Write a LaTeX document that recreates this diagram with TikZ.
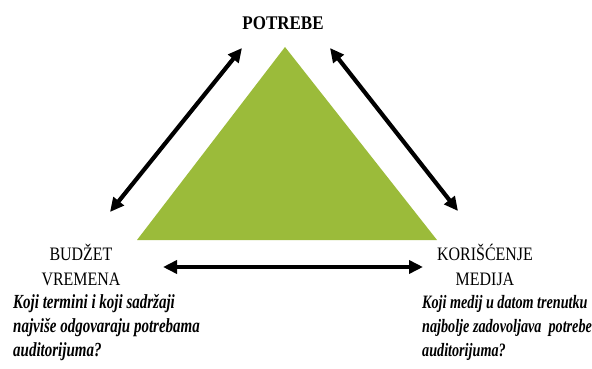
\documentclass[tikz,border=0pt]{standalone}
\usepackage{fontspec}
\setmainfont{Liberation Serif}
\newfontfamily\titlefont{Liberation Serif}[FakeStretch=0.88]
\newfontfamily\cornerfont{Liberation Serif}[FakeStretch=0.84]
\newfontfamily\questionfont{Liberation Serif}[FakeStretch=0.75]
\usetikzlibrary{arrows.meta}
\definecolor{triFill}{RGB}{155,187,58}
\colorlet{ink}{black}
\tikzset{
  dblarrow/.style={
    {Triangle[length=14pt,width=13pt]}-{Triangle[length=14pt,width=13pt]},
    draw=ink,
    line width=4.2pt
  },
  title/.style={font=\titlefont\fontsize{19.3}{20}\selectfont\bfseries, text=ink, inner sep=0pt},
  corner/.style={font=\cornerfont\fontsize{19}{25}\selectfont, text=ink, align=center, inner sep=0pt},
  question/.style={font=\questionfont\fontsize{20}{24}\selectfont\bfseries\itshape, text=ink, align=left, inner sep=0pt}
}

\begin{document}
\begin{tikzpicture}[x=1pt,y=-1pt]
  \useasboundingbox (0,0) rectangle (592,369);

  % triangle
  \coordinate (apex) at (285,47);
  \coordinate (baseL) at (137,240);
  \coordinate (baseR) at (437,240);
  \fill[triFill] (apex) -- (baseR) -- (baseL) -- cycle;

  % labels (base = last line)
  \node[title, anchor=base] (potrebe) at (283,30) {POTREBE};
  \node[corner, anchor=base] (budzet) at (81,285) {BUDŽET\\VREMENA};
  \node[corner, anchor=base] (medija) at (485,285) {KORIŠĆENJE\\MEDIJA};

  \node[question, anchor=base west] (qleft) at (13,356) {Koji termini i koji sadržaji\\najviše odgovaraju potrebama\\auditorijuma?};
  \node[question, font=\questionfont\fontsize{18.9}{24}\selectfont\bfseries\itshape, anchor=base west] (qright) at (422,356) {Koji medij u datom trenutku\\najbolje zadovoljava\ \ potrebe\\auditorijuma?};

  % arrow ends
  \coordinate (leftLow) at (110,212);
  \coordinate (leftTop) at (242,48);
  \coordinate (rightTop) at (330,48);
  \coordinate (rightLow) at (458,211);
  \coordinate (bottomL) at (163,267);
  \coordinate (bottomR) at (423,267);

  \draw[dblarrow] (leftLow) -- (leftTop);
  \draw[dblarrow] (rightTop) -- (rightLow);
  \draw[dblarrow] (bottomL) -- (bottomR);
\end{tikzpicture}
\end{document}
